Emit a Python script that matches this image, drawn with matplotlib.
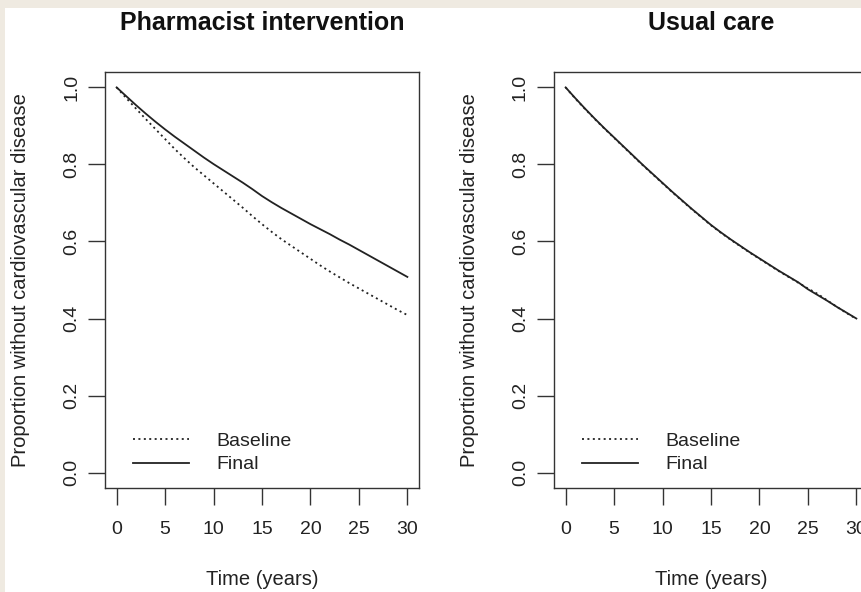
import matplotlib
matplotlib.use("Agg")
import matplotlib.pyplot as plt
from matplotlib.patches import Rectangle

# ---------------- data ----------------
years = list(range(0, 31))

pharm_baseline = [1.000, 0.972, 0.945, 0.918, 0.892, 0.866, 0.840, 0.816, 0.793, 0.772,
                  0.751, 0.730, 0.709, 0.688, 0.666, 0.645, 0.625, 0.606, 0.589, 0.572,
                  0.555, 0.538, 0.522, 0.507, 0.492, 0.478, 0.464, 0.450, 0.436, 0.422, 0.409]
pharm_final = [1.000, 0.977, 0.954, 0.932, 0.911, 0.891, 0.872, 0.854, 0.836, 0.818,
               0.801, 0.785, 0.769, 0.753, 0.736, 0.718, 0.702, 0.687, 0.673, 0.659,
               0.645, 0.632, 0.619, 0.605, 0.592, 0.578, 0.564, 0.550, 0.536, 0.522, 0.508]
usual_baseline = [1.000, 0.971, 0.944, 0.918, 0.893, 0.869, 0.845, 0.821, 0.797, 0.774,
                  0.751, 0.728, 0.706, 0.684, 0.663, 0.642, 0.623, 0.605, 0.588, 0.571,
                  0.555, 0.539, 0.523, 0.508, 0.493, 0.478, 0.464, 0.447, 0.430, 0.414, 0.399]
usual_final = [1.000, 0.972, 0.945, 0.919, 0.894, 0.870, 0.846, 0.822, 0.798, 0.775,
               0.752, 0.729, 0.707, 0.685, 0.664, 0.643, 0.624, 0.606, 0.589, 0.572,
               0.556, 0.540, 0.524, 0.509, 0.494, 0.476, 0.461, 0.446, 0.430, 0.415, 0.400]

panel_titles = ["Pharmacist intervention", "Usual care"]
legend_labels = ["Baseline", "Final"]
x_ticks = [0, 5, 10, 15, 20, 25, 30]
y_ticks = [0.0, 0.2, 0.4, 0.6, 0.8, 1.0]
x_label = "Time (years)"
y_label = "Proportion without cardiovascular disease"

# ---------------- figure ----------------
plt.rcParams['font.family'] = ['Liberation Sans', 'DejaVu Sans']
W, H = 861, 592
fig = plt.figure(figsize=(W / 100, H / 100), dpi=100, facecolor='#efeae1')
bg = Rectangle((5 / W, 0), 1, 1 - 8 / H, transform=fig.transFigure,
               facecolor='white', edgecolor='none', zorder=-10)
fig.patches.append(bg)

ink = '#222222'
box = '#333333'
ax_l = fig.add_axes([105 / W, 1 - 488 / H, 314 / W, 416 / H])
ax_r = fig.add_axes([554 / W, 1 - 488 / H, 314 / W, 416 / H])

data = [(pharm_baseline, pharm_final), (usual_baseline, usual_final)]

for ax, title, (base, final) in zip([ax_l, ax_r], panel_titles, data):
    ax.set_facecolor('white')
    ax.plot(years, base, color=ink, lw=1.3, linestyle=(0, (1.1, 1.9)), label=legend_labels[0])
    ax.plot(years, final, color=ink, lw=1.3, linestyle='-', label=legend_labels[1])
    ax.set_xlim(-1.2, 31.2)
    ax.set_ylim(-0.04, 1.04)
    ax.set_xticks(x_ticks)
    ax.set_yticks(y_ticks)
    ax.set_xticklabels([str(t) for t in x_ticks])
    ax.set_yticklabels(["%.1f" % t for t in y_ticks], rotation=90, va='center')
    for s in ax.spines.values():
        s.set_color(box)
        s.set_linewidth(1.0)
    ax.tick_params(axis='both', direction='out', length=12, width=1.0, color=box,
                   labelsize=14, labelcolor=ink)
    ax.tick_params(axis='x', pad=12)
    ax.tick_params(axis='y', pad=6)
    ax.set_xlabel(x_label, fontsize=14.5, color=ink)
    ax.set_ylabel(y_label, fontsize=14.5, color=ink)
    ax.xaxis.set_label_coords(0.5, -0.197)
    ax.yaxis.set_label_coords(-0.24, 0.5)
    pos = ax.get_position()
    fig.text(pos.x0 + pos.width / 2, 1 - 23 / H, title, ha='center', va='center',
             fontsize=18, fontweight='bold', color='#111111')
    ax.legend(loc='lower left', bbox_to_anchor=(0.089, 0.035), frameon=False,
              fontsize=14, handlelength=2.9, handletextpad=1.4, labelspacing=0.3,
              borderpad=0, borderaxespad=0, labelcolor=ink)

fig.savefig("out.png", dpi=100, facecolor=fig.get_facecolor())
